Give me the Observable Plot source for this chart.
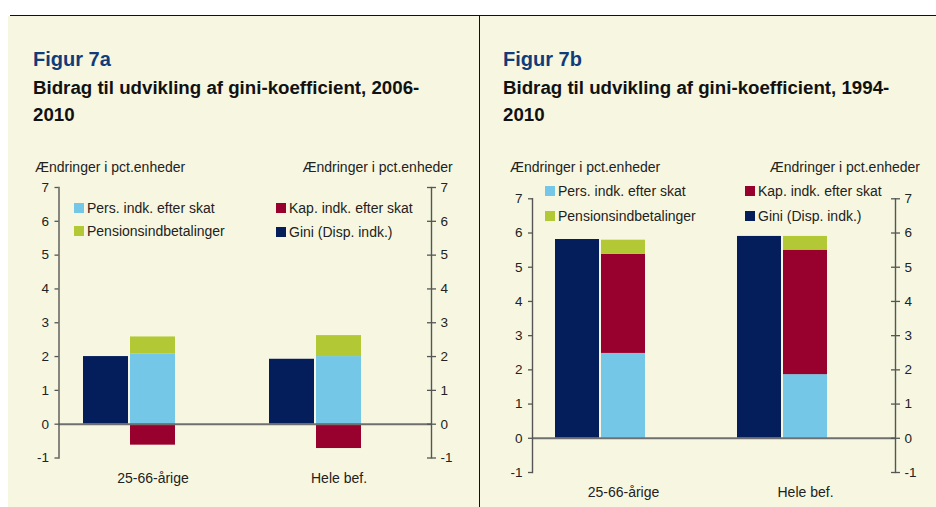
<!DOCTYPE html>
<html><head><meta charset="utf-8">
<script src="https://cdn.jsdelivr.net/npm/d3@7"></script>
<script src="https://cdn.jsdelivr.net/npm/@observablehq/plot@0.6"></script>
<style>
body{margin:0;width:936px;height:507px;position:relative;background:#fff;font-family:"Liberation Sans",Arial,sans-serif;overflow:hidden}
.abs{position:absolute;white-space:nowrap}
.panel{position:absolute;background:#f7f7e1}
.fig{font-weight:bold;font-size:20px;line-height:20px;color:#123b79}
.sub{font-weight:bold;font-size:18.7px;line-height:27px;color:#111}
.axl{font-size:14px;line-height:14px;color:#222}
.leg{font-size:14px;line-height:16px;color:#222;display:flex;align-items:center}
.sw{width:10px;height:10px;margin-right:3px;flex:none}
.hl{position:absolute;background:#111}
svg{position:absolute;top:0}
</style></head><body>
<div class="panel" style="left:8px;top:16px;width:471px;height:491px"></div>
<div class="panel" style="left:480px;top:16px;width:456px;height:491px"></div>
<div id="root"></div>
<script>
const categories = ["25-66-årige", "Hele bef."];
const seriesNames = ["Pers. indk. efter skat", "Kap. indk. efter skat", "Pensionsindbetalinger", "Gini (Disp. indk.)"];
const seriesColors = ["#74c7e6", "#98002e", "#b2c834", "#041d5b"];
const yTicks = [-1, 0, 1, 2, 3, 4, 5, 6, 7];
const axisTitle = "Ændringer i pct.enheder";

// Figur 7a (2006-2010)
const giniA = [2.00, 1.92];
const persA = [2.08, 2.00];
const kapA = [-0.62, -0.72];
const pensionA = [0.50, 0.62];

// Figur 7b (1994-2010)
const giniB = [5.81, 5.90];
const persB = [2.48, 1.86];
const kapB = [2.90, 3.64];
const pensionB = [0.41, 0.40];

function chart(o) {
  const stackRows = [];
  categories.forEach((c, i) => {
    stackRows.push({cat: c, series: seriesNames[0], value: o.pers[i]});
    stackRows.push({cat: c, series: seriesNames[1], value: o.kap[i]});
    stackRows.push({cat: c, series: seriesNames[2], value: o.pension[i]});
  });
  const giniRows = categories.map((c, i) => ({cat: c, series: seriesNames[3], value: o.gini[i]}));
  const fmt = d => String(d);
  const svg = Plot.plot({
    width: o.width, height: o.height,
    marginTop: o.marginTop, marginBottom: o.marginBottom,
    marginLeft: o.marginLeft, marginRight: o.marginRight,
    style: {background: "transparent", fontFamily: "'Liberation Sans', Arial, sans-serif", fontSize: "13.5px", color: "#222", overflow: "visible"},
    x: {domain: categories, paddingInner: o.paddingInner, paddingOuter: o.paddingOuter, align: o.align, label: null},
    y: {domain: [-1, 7], label: null},
    color: {domain: seriesNames, range: seriesColors},
    marks: [
      Plot.barY(giniRows, {x: "cat", y: "value", fill: "series", insetRight: o.half}),
      Plot.barY(stackRows, {x: "cat", y: "value", fill: "series", insetLeft: o.half}),
      Plot.ruleY([0], {stroke: "#6f6f6f", strokeWidth: 2}),
      Plot.frame({anchor: "left", stroke: "#555", strokeWidth: 1.4}),
      Plot.frame({anchor: "right", stroke: "#555", strokeWidth: 1.4}),
      Plot.axisY(yTicks, {anchor: "left", tickSize: 4, tickPadding: 6, tickFormat: fmt, stroke: "#555", strokeWidth: 1.3, label: null}),
      Plot.axisY(yTicks, {anchor: "right", tickSize: 4, tickPadding: 5, tickFormat: fmt, stroke: "#555", strokeWidth: 1.3, label: null}),
      Plot.axisY(yTicks, {anchor: "left", frameAnchor: "right", tickSize: 4, fill: "none", stroke: "#555", strokeWidth: 1.3, label: null}),
      Plot.axisX({anchor: "bottom", tickSize: 0, tickPadding: 15, dx: o.labelDx, fontSize: 14, label: null})
    ]
  });
  svg.style.left = o.left + "px";
  return svg;
}

const root = document.getElementById("root");
root.appendChild(chart({
  gini: giniA, pers: persA, kap: kapA, pension: pensionA,
  left: 0, width: 479, height: 507, marginTop: 187, marginBottom: 49.5, marginLeft: 58.5, marginRight: 48,
  paddingInner: 0.5054, paddingOuter: 0.254, align: 0.259, half: 47, labelDx: 23.5
}));
root.appendChild(chart({
  gini: giniB, pers: persB, kap: kapB, pension: pensionB,
  left: 480, width: 456, height: 507, marginTop: 198.3, marginBottom: 35, marginLeft: 52, marginRight: 41,
  paddingInner: 0.5055, paddingOuter: 0.25, align: 0.253, half: 46, labelDx: 23
}));

function addText(cls, text, style) {
  const d = document.createElement("div");
  d.className = "abs " + cls;
  d.textContent = text;
  Object.assign(d.style, style);
  document.body.appendChild(d);
  return d;
}
function addLegend(idx, left, topPx) {
  const d = document.createElement("div");
  d.className = "abs leg";
  Object.assign(d.style, {left: left + "px", top: topPx + "px"});
  const s = document.createElement("span");
  s.className = "sw";
  s.style.background = seriesColors[idx];
  const t = document.createElement("span");
  t.textContent = seriesNames[idx];
  d.appendChild(s); d.appendChild(t);
  document.body.appendChild(d);
}

// Panel A texts
addText("fig", "Figur 7a", {left: "33px", top: "48.8px"});
addText("sub", "Bidrag til udvikling af gini-koefficient, 2006-", {left: "33px", top: "74px"});
addText("sub", "2010", {left: "33px", top: "101px"});
addText("axl", axisTitle, {left: "35px", top: "159.8px"});
addText("axl", axisTitle, {right: (936 - 452.7) + "px", top: "159.8px"});
addLegend(0, 74, 199.5);
addLegend(2, 74, 223);
addLegend(1, 276, 199.5);
addLegend(3, 276, 223.5);

// Panel B texts
addText("fig", "Figur 7b", {left: "503px", top: "48.8px"});
addText("sub", "Bidrag til udvikling af gini-koefficient, 1994-", {left: "503px", top: "74px"});
addText("sub", "2010", {left: "503px", top: "101px"});
addText("axl", axisTitle, {left: "510px", top: "159.8px"});
addText("axl", axisTitle, {right: (936 - 920) + "px", top: "159.8px"});
addLegend(0, 545, 182.5);
addLegend(2, 545, 208);
addLegend(1, 745, 182.5);
addLegend(3, 745, 208);

// frame lines
const topLine = document.createElement("div");
topLine.className = "hl";
Object.assign(topLine.style, {left: "10px", top: "15px", width: "926px", height: "1.2px"});
document.body.appendChild(topLine);
const vLine = document.createElement("div");
vLine.className = "hl";
Object.assign(vLine.style, {left: "479px", top: "15px", width: "1.2px", height: "492px"});
document.body.appendChild(vLine);
</script>
</body></html>
